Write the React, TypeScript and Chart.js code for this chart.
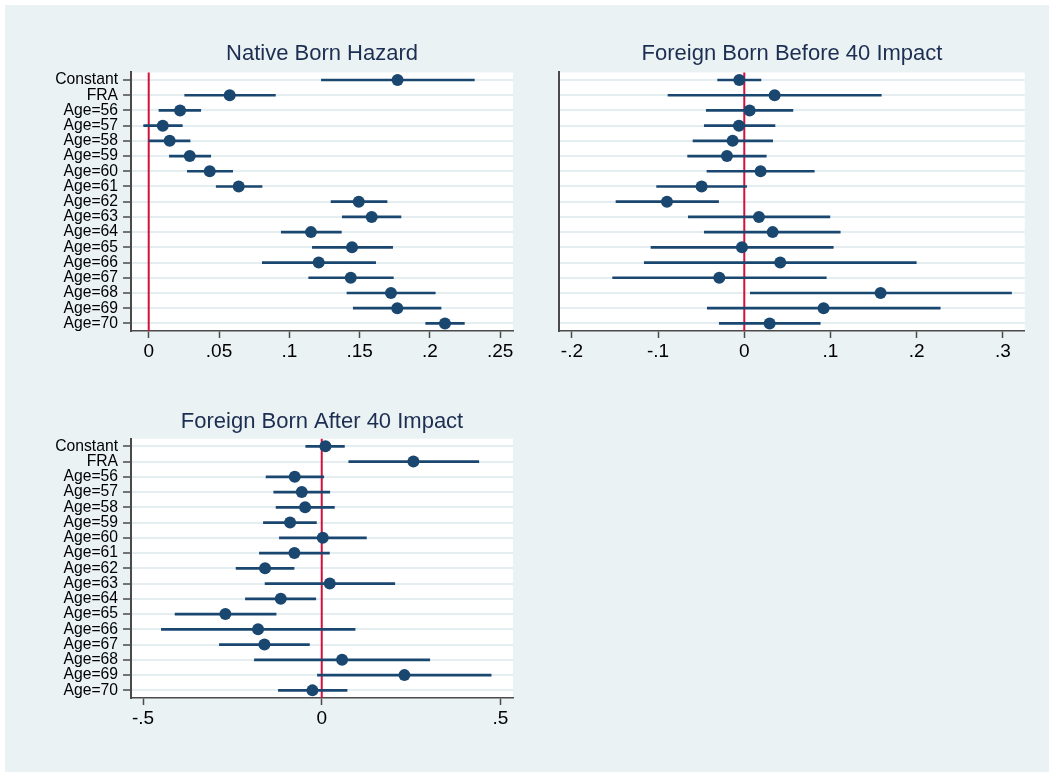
import React, { useEffect, useRef } from "react";
import { Chart, registerables } from "chart.js";

Chart.register(...registerables);

const categories = [
  "Constant", "FRA", "Age=56", "Age=57", "Age=58", "Age=59", "Age=60", "Age=61",
  "Age=62", "Age=63", "Age=64", "Age=65", "Age=66", "Age=67", "Age=68", "Age=69", "Age=70",
];

const nativeEst = [0.177, 0.0576, 0.0223, 0.01, 0.0149, 0.0292, 0.0434, 0.064, 0.1494, 0.1586, 0.1154, 0.1446, 0.1209, 0.1437, 0.1723, 0.1768, 0.2107];
const nativeLo = [0.1228, 0.0256, 0.0073, -0.0036, 0.0002, 0.0147, 0.0275, 0.048, 0.1297, 0.1377, 0.0943, 0.1164, 0.0808, 0.1138, 0.141, 0.1455, 0.197];
const nativeHi = [0.2316, 0.0901, 0.037, 0.0239, 0.0294, 0.0441, 0.0597, 0.0806, 0.1695, 0.1794, 0.137, 0.1735, 0.1614, 0.174, 0.2038, 0.2079, 0.2245];

const before40Est = [-0.0058, 0.0352, 0.0062, -0.0062, -0.0135, -0.0201, 0.0189, -0.0495, -0.0897, 0.017, 0.0329, -0.0027, 0.0417, -0.029, 0.1581, 0.092, 0.0294];
const before40Lo = [-0.0309, -0.0885, -0.0441, -0.0464, -0.0595, -0.0657, -0.0433, -0.1017, -0.1488, -0.0649, -0.0464, -0.1082, -0.116, -0.1527, 0.007, -0.0429, -0.029];
const before40Hi = [0.0193, 0.1589, 0.0564, 0.0356, 0.0329, 0.0255, 0.0812, 0.0027, -0.0298, 0.0993, 0.1113, 0.1032, 0.1995, 0.0951, 0.31, 0.2273, 0.0881];

const after40Est = [0.0103, 0.2565, -0.0756, -0.056, -0.0466, -0.0886, 0.0028, -0.0765, -0.1586, 0.0224, -0.1147, -0.2696, -0.1782, -0.1604, 0.0569, 0.2313, -0.0261];
const after40Lo = [-0.0448, 0.0756, -0.1558, -0.1343, -0.1278, -0.1632, -0.1185, -0.1744, -0.2397, -0.1586, -0.2136, -0.4104, -0.4487, -0.2864, -0.1884, -0.0121, -0.1213];
const after40Hi = [0.0634, 0.4394, 0.0056, 0.0224, 0.0354, -0.0149, 0.125, 0.0215, -0.0774, 0.2043, -0.0168, -0.1278, 0.0933, -0.0345, 0.3022, 0.4739, 0.0709];

const nativeTicks = [0, 0.05, 0.1, 0.15, 0.2, 0.25];
const nativeTickLabels = ["0", ".05", ".1", ".15", ".2", ".25"];
const before40Ticks = [-0.2, -0.1, 0, 0.1, 0.2, 0.3];
const before40TickLabels = ["-.2", "-.1", "0", ".1", ".2", ".3"];
const after40Ticks = [-0.5, 0, 0.5];
const after40TickLabels = ["-.5", "0", ".5"];

const NAVY = "#1a476f";
const TITLE_COLOR = "#1c2e52";
const AXIS_COLOR = "#4a4a4a";
const GRID_COLOR = "#e4edef";
const ZERO_COLOR = "#d4103c";
const FONT = "'Liberation Sans', Arial, Helvetica, sans-serif";

type PanelProps = {
  title: string;
  est: number[];
  lo: number[];
  hi: number[];
  ticks: number[];
  tickLabels: string[];
  xMin: number;
  xMax: number;
  left: number;
  top: number;
  width: number;
  height: number;
  padRight: number;
  yAxisWidth: number;
  xAxisHeight: number;
  titlePadTop: number;
  titlePadBottom: number;
  showYLabels: boolean;
};

const plotBgPlugin = {
  id: "plotBg",
  beforeDraw(chart: any) {
    const { ctx, chartArea } = chart;
    ctx.save();
    ctx.fillStyle = "#ffffff";
    ctx.fillRect(chartArea.left, chartArea.top, chartArea.right - chartArea.left, chartArea.bottom - chartArea.top);
    ctx.restore();
  },
};

const zeroLinePlugin = {
  id: "zeroLine",
  beforeDatasetsDraw(chart: any) {
    const { ctx, chartArea, scales } = chart;
    const x = scales.x.getPixelForValue(0);
    ctx.save();
    ctx.strokeStyle = ZERO_COLOR;
    ctx.lineWidth = 2;
    ctx.beginPath();
    ctx.moveTo(x, chartArea.top);
    ctx.lineTo(x, chartArea.bottom);
    ctx.stroke();
    ctx.restore();
  },
};

function Panel(p: PanelProps) {
  const ref = useRef<HTMLCanvasElement>(null);
  useEffect(() => {
    if (!ref.current) return;
    const chart = new Chart(ref.current, {
      type: "bar",
      data: {
        labels: categories,
        datasets: [
          {
            type: "bar",
            data: p.lo.map((l, i) => [l, p.hi[i]]),
            backgroundColor: NAVY,
            borderWidth: 0,
            barThickness: 2,
            order: 2,
          } as any,
          {
            type: "scatter",
            data: p.est.map((v, i) => ({ x: v, y: categories[i] })),
            backgroundColor: NAVY,
            pointBackgroundColor: NAVY,
            pointRadius: 6,
            pointHoverRadius: 6,
            pointBorderWidth: 0,
            order: 1,
          } as any,
        ],
      },
      options: {
        indexAxis: "y",
        responsive: false,
        animation: false,
        devicePixelRatio: 1,
        layout: { padding: { left: 0, right: p.padRight, top: 0, bottom: 0 } },
        plugins: {
          legend: { display: false },
          tooltip: { enabled: false },
          title: {
            display: true,
            text: p.title,
            fullSize: false,
            color: TITLE_COLOR,
            font: { family: FONT, size: 22, weight: "normal" },
            padding: { top: p.titlePadTop, bottom: p.titlePadBottom },
          },
        },
        scales: {
          x: {
            type: "linear",
            min: p.xMin,
            max: p.xMax,
            afterBuildTicks: (axis: any) => {
              axis.ticks = p.ticks.map((v) => ({ value: v }));
            },
            afterFit: (axis: any) => {
              axis.height = p.xAxisHeight;
            },
            ticks: {
              autoSkip: false,
              maxRotation: 0,
              minRotation: 0,
              padding: 2,
              color: "#000",
              font: { family: FONT, size: 19 },
              callback: (value: any) => {
                const idx = p.ticks.findIndex((t) => Math.abs(t - Number(value)) < 1e-9);
                return idx >= 0 ? p.tickLabels[idx] : "";
              },
            },
            grid: {
              drawOnChartArea: false,
              drawTicks: true,
              tickLength: 7,
              tickColor: AXIS_COLOR,
              tickWidth: 1.5,
            },
            border: { display: true, color: AXIS_COLOR, width: 1.5 },
          },
          y: {
            type: "category",
            offset: true,
            afterFit: (axis: any) => {
              axis.width = p.yAxisWidth;
            },
            ticks: {
              display: p.showYLabels,
              padding: 5,
              color: "#000",
              autoSkip: false,
              font: { family: FONT, size: 15.7 },
            },
            grid: {
              offset: false,
              color: GRID_COLOR,
              lineWidth: 2,
              drawTicks: p.showYLabels,
              tickLength: 8,
              tickColor: AXIS_COLOR,
              tickWidth: 1.5,
            },
            border: { display: true, color: AXIS_COLOR, width: 2 },
          },
        },
      } as any,
      plugins: [plotBgPlugin, zeroLinePlugin],
    });
    return () => chart.destroy();
  }, []);
  return (
    <canvas
      ref={ref}
      width={p.width}
      height={p.height}
      style={{ position: "absolute", left: p.left, top: p.top, width: p.width, height: p.height, display: "block" }}
    />
  );
}

export default function App() {
  return (
    <div style={{ position: "absolute", left: 0, top: 0, width: 1049, height: 772, background: "#ffffff", overflow: "hidden" }}>
      <div style={{ position: "absolute", left: 5, top: 5, right: 0, bottom: 0, background: "#eaf2f3" }} />
      <Panel
        title="Native Born Hazard"
        est={nativeEst}
        lo={nativeLo}
        hi={nativeHi}
        ticks={nativeTicks}
        tickLabels={nativeTickLabels}
        xMin={-0.0126}
        xMax={0.2591}
        left={0}
        top={0}
        width={525}
        height={385}
        padRight={12}
        yAxisWidth={131}
        xAxisHeight={54}
        titlePadTop={40.6}
        titlePadBottom={5.4}
        showYLabels={true}
      />
      <Panel
        title="Foreign Born Before 40 Impact"
        est={before40Est}
        lo={before40Lo}
        hi={before40Hi}
        ticks={before40Ticks}
        tickLabels={before40TickLabels}
        xMin={-0.2146}
        xMax={0.3253}
        left={530}
        top={0}
        width={519}
        height={385}
        padRight={24.3}
        yAxisWidth={29.3}
        xAxisHeight={54}
        titlePadTop={40.6}
        titlePadBottom={5.4}
        showYLabels={false}
      />
      <Panel
        title="Foreign Born After 40 Impact"
        est={after40Est}
        lo={after40Lo}
        hi={after40Hi}
        ticks={after40Ticks}
        tickLabels={after40TickLabels}
        xMin={-0.5337}
        xMax={0.5351}
        left={0}
        top={380}
        width={525}
        height={392}
        padRight={12}
        yAxisWidth={131}
        xAxisHeight={74}
        titlePadTop={29}
        titlePadBottom={3.3}
        showYLabels={true}
      />
    </div>
  );
}
